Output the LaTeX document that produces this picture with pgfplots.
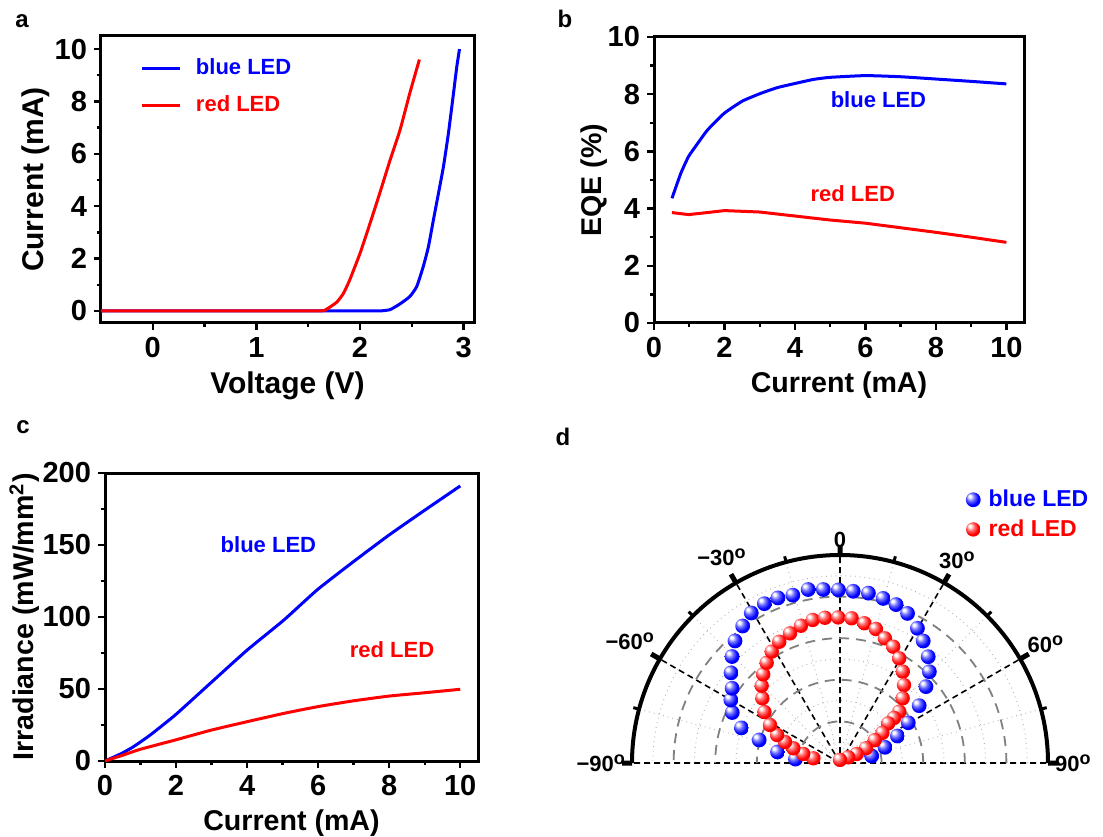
\documentclass[border=0pt]{standalone}
\usepackage{fontspec}
\setmainfont{Liberation Sans}
\usepackage{pgfplots}
\usepackage{pgfplotstable}
\pgfplotsset{compat=1.18}
\usepgfplotslibrary{polar}

\newcommand{\dg}{\raisebox{0.32em}{\fontsize{9}{9}\selectfont o}}

\pgfdeclareradialshading{ballblue}{\pgfpoint{-13bp}{13bp}}{color(0bp)=(white); color(4bp)=(white); color(13bp)=(blue!55!white); color(24bp)=(blue); color(44bp)=(blue!92!black); color(50bp)=(blue!80!black)}
\pgfdeclareradialshading{ballred}{\pgfpoint{-13bp}{13bp}}{color(0bp)=(white); color(4bp)=(white); color(13bp)=(red!55!white); color(24bp)=(red); color(44bp)=(red!92!black); color(50bp)=(red!80!black)}
\pgfdeclareplotmark{bballmark}{\pgfpathcircle{\pgfpointorigin}{\pgfplotmarksize}\pgfshadepath{ballblue}{0}\pgfusepath{}}
\pgfdeclareplotmark{rballmark}{\pgfpathcircle{\pgfpointorigin}{\pgfplotmarksize}\pgfshadepath{ballred}{0}\pgfusepath{}}

\pgfplotstableread{
V I
-0.5 0
1.0 0
2.0 0
2.19 0
2.29 0.05
2.386 0.27
2.48 0.55
2.547 0.93
2.61 1.69
2.66 2.45
2.708 3.47
2.757 4.49
2.805 5.51
2.853 6.78
2.902 8.31
2.934 9.33
2.96 10.0
}\ivblue
\pgfplotstableread{
V I
-0.5 0
1.0 0
1.6 0
1.66 0.03
1.71 0.15
1.777 0.34
1.84 0.67
1.90 1.18
2.0 2.2
2.097 3.35
2.19 4.49
2.29 5.76
2.386 6.91
2.48 8.31
2.573 9.6
}\ivred
\pgfplotstableread{
I E
0.51 4.36
0.76 5.23
0.98 5.82
1.24 6.28
1.52 6.75
1.99 7.33
2.51 7.76
3.03 8.03
3.5 8.23
4.02 8.38
4.54 8.52
5.01 8.59
6.0 8.65
7.0 8.61
8.0 8.53
8.98 8.45
10.0 8.36
}\eqeblue
\pgfplotstableread{
I E
0.51 3.86
0.98 3.79
1.5 3.86
2.0 3.93
3.0 3.88
4.0 3.74
5.0 3.6
6.0 3.49
7.0 3.33
8.0 3.17
9.0 3.0
10.0 2.82
}\eqered
\pgfplotstableread{
I P
0 0
0.47 5.3
0.8 9.9
1.27 18
1.98 32
3.01 55
4.0 77
5.04 98
5.98 119
6.97 138
8.0 157
8.99 174
10.0 191
}\irrblue
\pgfplotstableread{
I P
0 0
0.52 4.2
0.99 8.1
1.98 14.6
3.0 21.5
4.0 27.3
5.04 33.1
5.98 37.7
6.97 41.7
8.0 45.1
9.0 47.4
10.0 49.8
}\irrred
\pgfplotstableread{
a r
-85 0.215
-80 0.305
-74.1 0.404
-70.4 0.503
-64.9 0.572
-60 0.606
-55.3 0.631
-50.4 0.680
-45.4 0.729
-40.7 0.774
-35.4 0.808
-30.6 0.838
-25.4 0.848
-20.6 0.848
-15.7 0.838
-10.4 0.848
-5.5 0.838
-0.5 0.832
4.4 0.828
9.5 0.828
14.7 0.818
19.5 0.808
24.3 0.789
29.9 0.747
34.3 0.710
39.7 0.664
44.4 0.614
48.4 0.553
54.1 0.470
59.5 0.381
64.8 0.305
70.8 0.229
77.5 0.156
}\angblue
\pgfplotstableread{
a r
-80 0.130
-76.2 0.182
-72.5 0.235
-69.1 0.283
-66 0.331
-61.5 0.383
-56 0.438
-50.2 0.486
-45.4 0.529
-40.9 0.564
-36.2 0.597
-31.5 0.628
-26.6 0.652
-21.1 0.668
-15.9 0.686
-10.8 0.700
-5.9 0.702
-0.7 0.700
4.6 0.698
9.9 0.682
15.0 0.667
19.8 0.637
24.6 0.615
29.5 0.578
34.5 0.533
39.4 0.485
44.1 0.433
49.1 0.377
50.2 0.338
50.6 0.300
54.6 0.250
56.7 0.200
60.5 0.144
61.7 0.091
55.5 0.048
0 0.015
}\angred

\pgfplotsset{
  panel/.style={
    scale only axis,
    anchor=south west,
    axis line style={line width=1.5pt},
    tick align=outside,
    tick pos=left,
    major tick length=3.5pt,
    minor tick length=2pt,
    tick style={line width=1.2pt, black},
    /pgf/number format/assume math mode=true,
    tick label style={font=\fontsize{14.5}{16}\selectfont\bfseries},
    label style={font=\fontsize{14.3}{17}\selectfont\bfseries},
    ylabel shift=-5pt,
    every axis plot/.append style={line width=1.5pt},
  }
}

\begin{document}
\begin{tikzpicture}
\path[use as bounding box] (0,0) rectangle (551.5pt,418pt);

% panel letters
\node[font=\fontsize{12}{12}\selectfont\bfseries] at (11pt,407.5pt) {a};
\node[font=\fontsize{12}{12}\selectfont\bfseries] at (282.5pt,408.5pt) {b};
\node[font=\fontsize{12}{12}\selectfont\bfseries] at (11.5pt,204.5pt) {c};
\node[font=\fontsize{12}{12}\selectfont\bfseries] at (281.5pt,199.5pt) {d};

% panel a
\begin{axis}[panel, at={(50.5pt,256.5pt)}, width=186.5pt, height=143.5pt,
  xmin=-0.5, xmax=3.1, ymin=-0.46, ymax=10.5,
  xtick={0,1,2,3}, minor x tick num=1,
  ytick={0,2,...,10}, minor y tick num=1,
  label style={font=\fontsize{15}{18}\selectfont\bfseries},
  ylabel shift=-4.5pt,
  xlabel={Voltage (V)}, ylabel={Current (mA)},
  legend style={draw=none, fill=none, at={(0.09,0.95)}, anchor=north west,
    font=\fontsize{11}{13}\selectfont\bfseries, row sep=5pt},
  legend cell align=left,
  legend image code/.code={\draw[#1, line width=1.5pt] (0pt,0pt) -- (19pt,0pt);},
]
\addplot[blue, line width=1.5pt, smooth, tension=0.3] table[x=V, y=I] {\ivblue};
\addlegendentry{\hspace{5pt}\textcolor{blue}{blue LED}}
\addplot[red, line width=1.5pt, smooth, tension=0.3] table[x=V, y=I] {\ivred};
\addlegendentry{\hspace{5pt}\textcolor{red}{red LED}}
\end{axis}

% panel b
\begin{axis}[panel, at={(327pt,256.5pt)}, width=185pt, height=143pt,
  xmin=0, xmax=10.5, ymin=0, ymax=10,
  xtick={0,2,...,10}, minor x tick num=1,
  ytick={0,2,...,10}, minor y tick num=1,
  ylabel shift=-6.5pt,
  xlabel={Current (mA)}, ylabel={EQE (\%)},
]
\addplot[blue, line width=1.5pt, smooth, tension=0.3] table[x=I, y=E] {\eqeblue};
\addplot[red, line width=1.5pt] table[x=I, y=E] {\eqered};
\node[blue, font=\fontsize{11}{13}\selectfont\bfseries] at (axis cs:6.37,7.8) {blue LED};
\node[red, font=\fontsize{11}{13}\selectfont\bfseries] at (axis cs:5.64,4.51) {red LED};
\end{axis}

% panel c
\begin{axis}[panel, at={(52.5pt,37.5pt)}, width=186.5pt, height=144pt,
  xmin=0, xmax=10.5, ymin=0, ymax=200,
  xtick={0,2,...,10}, minor x tick num=1,
  ytick={0,50,...,200}, minor y tick num=1,
  ylabel shift=-5.5pt,
  xlabel={Current (mA)}, ylabel={Irradiance (mW/mm\textsuperscript{2})},
]
\addplot[blue, line width=1.5pt, smooth, tension=0.3] table[x=I, y=P] {\irrblue};
\addplot[red, line width=1.5pt, smooth, tension=0.3] table[x=I, y=P] {\irrred};
\node[blue, font=\fontsize{11}{13}\selectfont\bfseries] at (axis cs:4.6,150) {blue LED};
\node[red, font=\fontsize{11}{13}\selectfont\bfseries] at (axis cs:8.08,77) {red LED};
\end{axis}

% panel d
\begin{polaraxis}[
  at={(420pt,36.5pt)}, anchor=origin,
  scale only axis, width=208pt, height=208pt,
  xmin=0, xmax=180, ymin=0, ymax=1,
  xtick={0,30,...,180},
  xticklabels={90\dg,60\dg,30\dg,0,−30\dg,−60\dg,−90\dg},
  minor x tick num=1,
  ytick={0.2,0.4,0.6,0.8}, minor ytick={0.1,0.3,0.5,0.7,0.9},
  yticklabels={},
  xmajorgrids, xminorgrids, ymajorgrids, yminorgrids,
  major x grid style={black, dash pattern=on 3pt off 2pt, line width=0.8pt},
  minor x grid style={gray!60, dotted, line width=0.5pt},
  major y grid style={gray, dash pattern=on 5pt off 3.5pt, line width=0.9pt},
  minor y grid style={gray!60, dotted, line width=0.5pt},
  axis line style={line width=2pt},
  y axis line style={draw=none},
  tick align=inside,
  major tick length=5pt, minor tick length=3pt,
  major x tick style={line width=2.5pt, black},
  minor x tick style={line width=1.5pt, black},
  y tick style={draw=none},
  /pgf/number format/assume math mode=true,
  xticklabel style={font=\fontsize{11}{13}\selectfont\bfseries},
  legend style={draw=none, fill=none, at={(axis cs:67,1.47)}, anchor=north west,
    font=\fontsize{11.5}{13}\selectfont\bfseries, row sep=1pt,
    /tikz/every odd column/.append style={column sep=2pt}},
  legend cell align=left,
]
\addplot[only marks, mark=bballmark, mark size=3.7pt]
  table[x expr=90-\thisrow{a}, y=r] {\angblue};
\addlegendentry{\textcolor{blue}{blue LED}}
\addplot[only marks, mark=rballmark, mark size=3.6pt]
  table[x expr=90-\thisrow{a}, y=r] {\angred};
\addlegendentry{\textcolor{red}{red LED}}
\end{polaraxis}
\end{tikzpicture}
\end{document}
